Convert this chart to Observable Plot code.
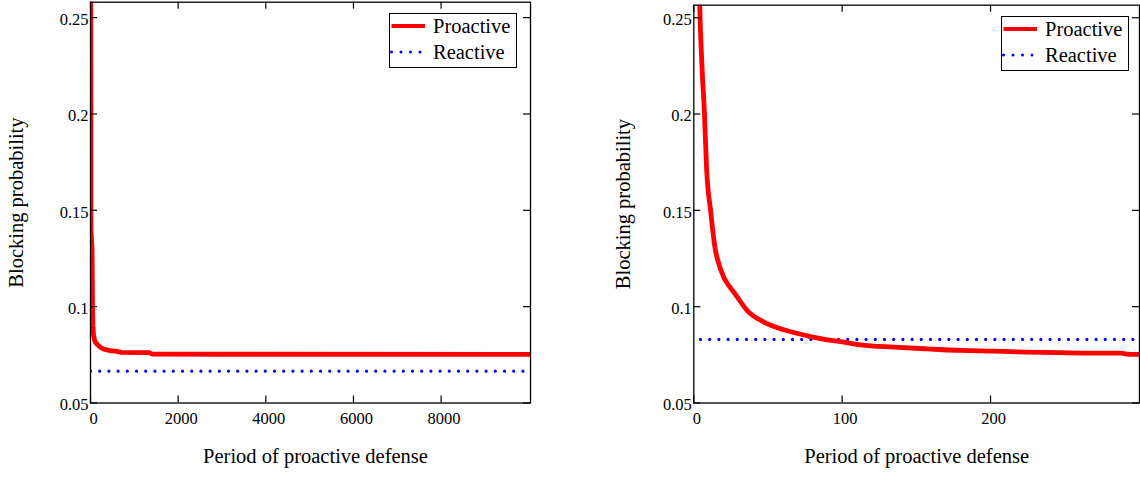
<!DOCTYPE html>
<html>
<head>
<meta charset="utf-8">
<script src="https://cdn.jsdelivr.net/npm/d3@7"></script>
<script src="https://cdn.jsdelivr.net/npm/@observablehq/plot@0.6"></script>
<style>
  html, body { margin: 0; padding: 0; background: #fff; }
  #wrap { position: relative; width: 1140px; height: 477px; font-family: "Liberation Serif", "Times New Roman", serif; }
  #wrap > svg, #wrap > div { position: absolute; }
  .legend { border: 1.2px solid #000; background: #fff; box-sizing: border-box; }
</style>
</head>
<body>
<div id="wrap"></div>
<script>
// ---- data ----
const seriesNames = ["Proactive", "Reactive"];
const yTicks = [0.05, 0.1, 0.15, 0.2, 0.25];

// Left panel: period up to 10000
const leftXTicks = [0, 2000, 4000, 6000, 8000];
const leftProX = [0, 5, 8, 10, 20, 35, 45, 55, 70, 100, 150, 220, 300, 450, 600, 700, 1350, 1400, 3000, 10040];
const leftProY = [0.30, 0.26, 0.20, 0.14, 0.136, 0.13, 0.10, 0.09, 0.085, 0.082, 0.0805, 0.079, 0.078, 0.0772, 0.0768, 0.0763, 0.0761, 0.0754, 0.0753, 0.0752];
const leftReX = [0, 10000];
const leftReY = [0.0665, 0.0665];

// Right panel: period up to 300
const rightXTicks = [0, 100, 200];
const rightProX = [3, 4, 5.5, 7.2, 8.6, 11.3, 14.6, 16.2, 20.2, 24, 27, 36, 47.2, 58.4, 67.4, 78.7, 89.9, 101, 112.4, 134.8, 157.3, 179.8, 202.2, 224.7, 247.2, 269.6, 287.6, 292, 296.6, 300];
const rightProY = [0.30, 0.257, 0.225, 0.20, 0.172, 0.15, 0.1292, 0.124, 0.1153, 0.1105, 0.1075, 0.098, 0.092, 0.0885, 0.0866, 0.0845, 0.0828, 0.0816, 0.0802, 0.079, 0.0781, 0.0773, 0.0769, 0.0764, 0.0761, 0.0759, 0.0759, 0.0754, 0.0752, 0.0752];
const rightReX = [4.5, 300];
const rightReY = [0.083, 0.083];

const zip = (xs, ys) => xs.map((x, i) => ({x, y: ys[i]}));

const FONT = "'Liberation Serif', 'Times New Roman', serif";

function panel({width, marginLeft, marginRight, marginTop, marginBottom, xDomain, yDomain, xTicks, pro, re, yTitleDx, xTitleDx, curve}) {
  const height = 477;
  const innerW = width - marginLeft - marginRight;
  const innerH = height - marginTop - marginBottom;
  return Plot.plot({
    width, height, marginLeft, marginRight, marginTop, marginBottom,
    style: {fontFamily: FONT, fontSize: "16.5px", background: "transparent", color: "#000", overflow: "visible"},
    x: {domain: xDomain},
    y: {domain: yDomain},
    marks: [
      Plot.line(re, {x: "x", y: "y", stroke: "#0000ff", strokeWidth: 3.2, strokeDasharray: "0,9.2", strokeLinecap: "round", clip: true}),
      Plot.line(pro, {x: "x", y: "y", stroke: "#ff0000", strokeWidth: 4.8, strokeLinejoin: "round", curve, clip: true}),
      // inward ticks on all four sides
      Plot.tickY(yTicks, {y: d => d, stroke: "#000", strokeWidth: 1.2, insetRight: innerW - 7}),
      Plot.tickY(yTicks, {y: d => d, stroke: "#000", strokeWidth: 1.2, insetLeft: innerW - 7}),
      Plot.tickX(xTicks, {x: d => d, stroke: "#000", strokeWidth: 1.2, insetTop: innerH - 7}),
      Plot.tickX(xTicks, {x: d => d, stroke: "#000", strokeWidth: 1.2, insetBottom: innerH - 7}),
      Plot.frame({stroke: "#000", strokeWidth: 1.3}),
      Plot.axisY({ticks: yTicks, tickSize: 0, tickPadding: 2, dy: 2, tickFormat: d => String(d), label: null, fontSize: 16.5}),
      Plot.axisX({ticks: xTicks, tickSize: 0, tickPadding: 9, dx: 3, tickFormat: d => String(d), label: null, fontSize: 16.5}),
      Plot.text(["Blocking probability"], {frameAnchor: "left", textAnchor: "middle", lineAnchor: "middle", dx: yTitleDx, rotate: -90, text: d => d, fontSize: 20.5, fill: "#000"}),
      Plot.text(["Period of proactive defense"], {frameAnchor: "bottom", textAnchor: "middle", lineAnchor: "bottom", dy: 60, dx: xTitleDx, text: d => d, fontSize: 20.5, fill: "#000"})
    ]
  });
}

const wrap = document.getElementById("wrap");

const left = panel({
  width: 560, marginLeft: 90, marginRight: 30, marginTop: 1.7, marginBottom: 74.5,
  xDomain: [0, 10040], yDomain: [0.05, 0.258], xTicks: leftXTicks,
  pro: zip(leftProX, leftProY), re: zip(leftReX, leftReY), yTitleDx: -74, xTitleDx: 5, curve: "linear"
});
left.style.left = "0px"; left.style.top = "0px";
wrap.appendChild(left);

const right = panel({
  width: 580, marginLeft: 133.3, marginRight: 1, marginTop: 4.7, marginBottom: 74.5,
  xDomain: [0, 300.4], yDomain: [0.05, 0.2565], xTicks: rightXTicks,
  pro: zip(rightProX, rightProY), re: zip(rightReX, rightReY), yTitleDx: -70.8, xTitleDx: 0, curve: "monotone-x"
});
right.style.left = "560px"; right.style.top = "0px";
wrap.appendChild(right);

// legends (HTML overlays)
function legend(left, top) {
  const div = document.createElement("div");
  div.className = "legend";
  div.style.left = left + "px";
  div.style.top = top + "px";
  div.style.width = "128px";
  div.style.height = "54.5px";
  const svg = d3.create("svg").attr("width", 128).attr("height", 54).style("position", "absolute").style("left", "-1px").style("top", "-1px").style("overflow", "visible");
  const rows = [
    {name: seriesNames[0], color: "#ff0000", width: 4, dash: null, cap: "butt", y: 13},
    {name: seriesNames[1], color: "#0000ff", width: 3, dash: "0,9.5", cap: "round", y: 39}
  ];
  for (const r of rows) {
    const ln = svg.append("line").attr("x1", 2.5).attr("x2", r.dash ? 32 : 36).attr("y1", r.y).attr("y2", r.y)
      .attr("stroke", r.color).attr("stroke-width", r.width).attr("stroke-linecap", r.cap);
    if (r.dash) ln.attr("stroke-dasharray", r.dash);
    svg.append("text").attr("x", 44).attr("y", r.y + 7).attr("font-family", FONT).attr("font-size", 20.5).attr("fill", "#000").text(r.name);
  }
  div.appendChild(svg.node());
  wrap.appendChild(div);
}
legend(389, 13.3);
legend(1000.7, 16);
</script>
</body>
</html>
